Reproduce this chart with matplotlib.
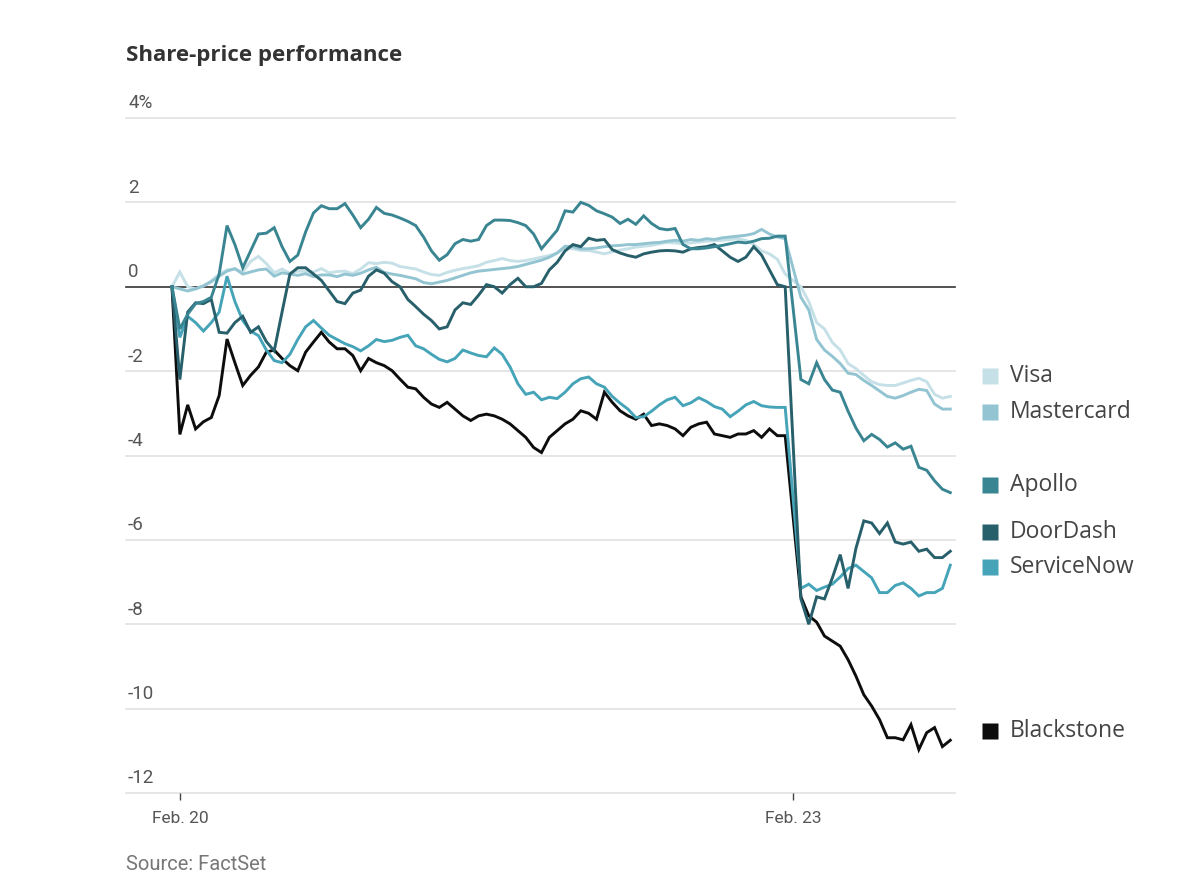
import numpy as np
import matplotlib
matplotlib.use("Agg")
import matplotlib.pyplot as plt
import matplotlib.transforms as mtransforms

# 5-minute bars: Feb 20 = bars 0..78, Feb 23 = bars 80..99
feb20_idx = np.arange(0, 79)
feb23_idx = np.arange(80, 100)

visa_20 = [0, 0.35, 0.0, -0.05, 0.02, 0.14, 0.3, 0.4, 0.42, 0.35,
           0.6, 0.72, 0.55, 0.33, 0.42, 0.32, 0.37, 0.37, 0.35, 0.43,
           0.33, 0.36, 0.37, 0.31, 0.42, 0.57, 0.55, 0.58, 0.56, 0.48,
           0.45, 0.42, 0.35, 0.29, 0.27, 0.34, 0.39, 0.43, 0.46, 0.5,
           0.58, 0.62, 0.67, 0.62, 0.6, 0.62, 0.66, 0.7, 0.74, 0.8,
           0.92, 0.9, 0.86, 0.86, 0.82, 0.78, 0.83, 0.87, 0.9, 0.94,
           0.96, 0.98, 1.02, 1.05, 1.04, 1.02, 1.04, 1.06, 1.08, 1.09,
           1.1, 1.12, 1.14, 1.1, 1.0, 0.85, 0.78, 0.65, 0.3]
visa_23 = [0.0, -0.35, -0.85, -1.0, -1.32, -1.5, -1.82, -1.94, -2.1, -2.25,
           -2.32, -2.34, -2.34, -2.28, -2.22, -2.17, -2.25, -2.55, -2.64, -2.6]

mastercard_20 = [0, -0.05, -0.1, -0.05, 0.02, 0.12, 0.25, 0.37, 0.43, 0.3,
                 0.35, 0.4, 0.42, 0.25, 0.33, 0.3, 0.27, 0.31, 0.24, 0.28,
                 0.28, 0.24, 0.3, 0.27, 0.32, 0.4, 0.46, 0.34, 0.3, 0.27,
                 0.23, 0.19, 0.1, 0.07, 0.11, 0.15, 0.21, 0.27, 0.33, 0.37,
                 0.39, 0.41, 0.43, 0.45, 0.48, 0.53, 0.58, 0.63, 0.7, 0.8,
                 0.96, 0.95, 0.9, 0.9, 0.92, 0.95, 0.97, 0.98, 1.0, 1.0,
                 1.02, 1.04, 1.05, 1.08, 1.1, 1.08, 1.12, 1.1, 1.14, 1.12,
                 1.16, 1.18, 1.2, 1.22, 1.26, 1.36, 1.25, 1.18, 1.14]
mastercard_23 = [-0.25, -0.55, -1.25, -1.5, -1.65, -1.82, -2.05, -2.08, -2.22, -2.34,
                 -2.47, -2.6, -2.64, -2.58, -2.5, -2.43, -2.46, -2.78, -2.9, -2.9]

apollo_20 = [0, -1.0, -0.65, -0.4, -0.35, -0.25, 0.3, 1.45, 1.0, 0.45,
             0.85, 1.25, 1.27, 1.4, 0.95, 0.6, 0.75, 1.3, 1.75, 1.92,
             1.85, 1.85, 1.97, 1.7, 1.4, 1.6, 1.88, 1.74, 1.7, 1.63,
             1.55, 1.45, 1.18, 0.85, 0.63, 0.76, 1.02, 1.12, 1.08, 1.12,
             1.45, 1.58, 1.58, 1.57, 1.52, 1.45, 1.25, 0.9, 1.12, 1.34,
             1.8, 1.77, 2.0, 1.93, 1.8, 1.73, 1.65, 1.5, 1.6, 1.48,
             1.68, 1.5, 1.38, 1.35, 1.38, 1.0, 0.9, 0.9, 0.92, 0.95,
             0.98, 1.02, 1.06, 1.04, 1.08, 1.14, 1.15, 1.2, 1.2]
apollo_23 = [-2.2, -2.3, -1.8, -2.2, -2.45, -2.5, -2.95, -3.35, -3.65, -3.5,
             -3.62, -3.8, -3.7, -3.85, -3.78, -4.28, -4.35, -4.6, -4.8, -4.88]

doordash_20 = [0, -2.2, -0.6, -0.38, -0.4, -0.3, -1.08, -1.1, -0.85, -0.7,
               -1.08, -0.95, -1.3, -1.52, -0.6, 0.3, 0.45, 0.45, 0.3, 0.15,
               -0.1, -0.35, -0.4, -0.15, -0.08, 0.25, 0.4, 0.32, 0.12, 0.0,
               -0.3, -0.47, -0.65, -0.8, -1.0, -0.95, -0.55, -0.38, -0.42, -0.2,
               0.05, 0.0, -0.15, 0.05, 0.2, 0.0, 0.0, 0.08, 0.4, 0.58,
               0.85, 1.0, 0.95, 1.15, 1.1, 1.12, 0.88, 0.8, 0.74, 0.7,
               0.78, 0.82, 0.85, 0.86, 0.85, 0.82, 0.9, 0.93, 0.95, 1.0,
               0.85, 0.7, 0.6, 0.7, 0.95, 0.75, 0.4, 0.05, 0.0]
doordash_23 = [-7.4, -8.0, -7.35, -7.4, -6.9, -6.35, -7.15, -6.2, -5.55, -5.6,
               -5.85, -5.6, -6.05, -6.1, -6.05, -6.27, -6.22, -6.42, -6.42, -6.27]

servicenow_20 = [0, -1.2, -0.7, -0.85, -1.05, -0.85, -0.6, 0.25, -0.35, -0.8,
                 -1.05, -1.16, -1.5, -1.75, -1.8, -1.6, -1.25, -0.95, -0.8, -0.98,
                 -1.15, -1.25, -1.35, -1.42, -1.52, -1.4, -1.25, -1.3, -1.27, -1.2,
                 -1.15, -1.4, -1.47, -1.6, -1.72, -1.78, -1.7, -1.5, -1.57, -1.63,
                 -1.66, -1.45, -1.6, -1.9, -2.3, -2.55, -2.5, -2.68, -2.62, -2.65,
                 -2.5, -2.3, -2.18, -2.14, -2.3, -2.38, -2.6, -2.76, -2.9, -3.1,
                 -3.08, -2.95, -2.8, -2.68, -2.62, -2.82, -2.75, -2.63, -2.72, -2.84,
                 -2.9, -3.08, -2.95, -2.8, -2.72, -2.82, -2.85, -2.86, -2.86]
servicenow_23 = [-7.15, -7.05, -7.2, -7.12, -7.05, -6.88, -6.68, -6.6, -6.75, -6.9,
                 -7.25, -7.25, -7.08, -7.02, -7.15, -7.33, -7.25, -7.25, -7.15, -6.6]

blackstone_20 = [0, -3.5, -2.8, -3.37, -3.2, -3.1, -2.58, -1.24, -1.8, -2.34,
                 -2.1, -1.9, -1.55, -1.5, -1.7, -1.87, -1.99, -1.55, -1.31, -1.08,
                 -1.31, -1.47, -1.47, -1.63, -1.99, -1.7, -1.8, -1.87, -1.99, -2.19,
                 -2.38, -2.42, -2.62, -2.78, -2.86, -2.74, -2.9, -3.06, -3.17, -3.06,
                 -3.02, -3.06, -3.14, -3.25, -3.41, -3.57, -3.81, -3.93, -3.57, -3.41,
                 -3.25, -3.14, -2.94, -3.0, -3.14, -2.5, -2.74, -2.94, -3.06, -3.14,
                 -3.02, -3.29, -3.25, -3.29, -3.37, -3.53, -3.33, -3.25, -3.21, -3.49,
                 -3.53, -3.57, -3.49, -3.49, -3.41, -3.57, -3.37, -3.53, -3.53]
blackstone_23 = [-7.35, -7.8, -7.95, -8.28, -8.4, -8.52, -8.84, -9.23, -9.67, -9.94,
                 -10.26, -10.69, -10.69, -10.74, -10.38, -10.97, -10.57, -10.45, -10.9, -10.75]

names = ['Visa', 'Mastercard', 'Apollo', 'DoorDash', 'ServiceNow', 'Blackstone']
colors = ['#c6e0e8', '#93c4d2', '#3a8592', '#275f6b', '#46a4b9', '#0d0d0d']
series = [(visa_20, visa_23), (mastercard_20, mastercard_23), (apollo_20, apollo_23),
          (doordash_20, doordash_23), (servicenow_20, servicenow_23),
          (blackstone_20, blackstone_23)]
# where the legend labels sit (chart units), spaced so they don't collide
label_y = [-2.11, -2.97, -4.70, -5.81, -6.65, -10.54]
draw_order = [0, 1, 5, 4, 3, 2]

y_ticks = [4, 2, 0, -2, -4, -6, -8, -10, -12]
y_labels = ['4%', '2', '0', '-2', '-4', '-6', '-8', '-10', '-12']
x_ticks = [1, 79]
x_labels = ['Feb. 20', 'Feb. 23']

narrow = ['Roboto', 'DejaVu Sans']
regular = ['Open Sans', 'DejaVu Sans']

fig = plt.figure(figsize=(12, 8.9), dpi=100)
ax = fig.add_axes([126/1200, 1-793/890, (955-126)/1200, (793-118)/890])
ax.set_xlim(-5.85, 99.6)
ax.set_ylim(-12, 4)
for s in ax.spines.values():
    s.set_visible(False)

for v, lab in zip(y_ticks, y_labels):
    ax.axhline(v, color='#333333' if v == 0 else '#e4e4e4',
               lw=1.2 if v == 0 else 1.3, zorder=1 if v else 2, clip_on=False)
    ax.annotate(lab, xy=(0, v), xycoords=('axes fraction', 'data'),
                xytext=(1.5, 4), textcoords='offset points', ha='left', va='bottom',
                fontsize=13.5, color='#555555', family=narrow)
ax.set_yticks([])

ax.set_xticks(x_ticks)
ax.set_xticklabels(x_labels, family=narrow)
ax.tick_params(axis='x', length=5, width=1, color='#444444', pad=8,
               labelsize=12.5, labelcolor='#555555')

for n in draw_order:
    s20, s23 = series[n]
    x = np.concatenate([feb20_idx, feb23_idx])
    y = np.concatenate([s20, s23])
    ax.plot(x, y, color=colors[n], lw=2.1, solid_joinstyle='miter', zorder=3)

trans = mtransforms.blended_transform_factory(ax.transAxes, ax.transData)
for n in range(len(names)):
    ax.plot(1.042, label_y[n], marker='s', ms=11.5, color=colors[n], mec='none',
            transform=trans, clip_on=False)
    ax.text(1.066, label_y[n], names[n], transform=trans, ha='left', va='center',
            fontsize=16.5, color='#444444', family=regular)

fig.text(126/1200, 1-55/890, 'Share-price performance', fontsize=16,
         fontweight='bold', color='#333333', ha='left', va='center', family=regular)
fig.text(126/1200, 1-865/890, 'Source: FactSet', fontsize=14.5, color='#777777',
         ha='left', va='center', family=narrow)

fig.savefig('out.png', dpi=100, facecolor='white')
